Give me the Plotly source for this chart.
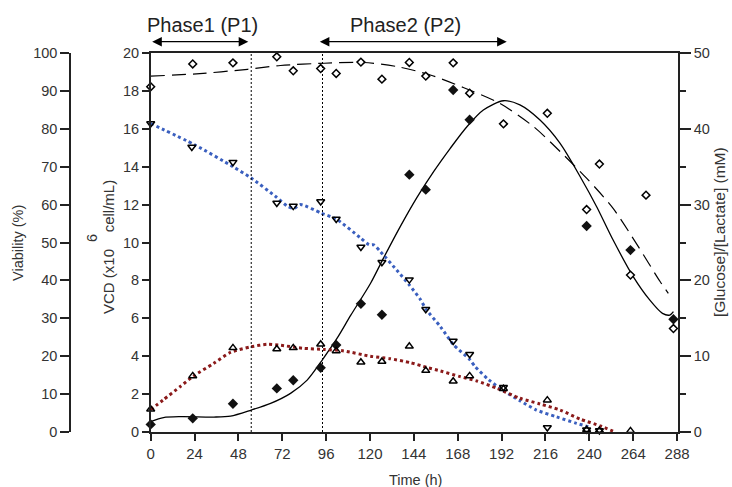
import plotly.graph_objects as go

# ---------------- data ----------------
# measured points
t_vcd = [0, 23, 45, 69, 78, 93, 101.5, 115, 126.5, 141.5, 150.5, 165.5, 174.5, 238.5, 262.5, 286]
vcd = [0.4, 0.72, 1.49, 2.3, 2.73, 3.39, 4.59, 6.77, 6.19, 13.58, 12.79, 18.05, 16.48, 10.87, 9.6, 5.95]

t_via = [0, 23, 45, 69, 78, 93, 101.5, 115, 126.5, 141.5, 150.5, 165.5, 174.5, 193, 217, 238.5, 245.5, 262.5, 271, 286]
viability = [91.1, 97.1, 97.4, 99.0, 95.3, 95.9, 94.6, 97.6, 93.1, 97.5, 93.9, 97.4, 89.4, 81.3, 84.1, 58.7, 70.7, 41.4, 62.5, 27.3]

t_glc = [0, 22.5, 45, 69, 78, 93, 101.5, 115, 126.5, 141.5, 150.5, 165.5, 174.5, 193, 217, 238.5, 245.5]
glucose = [40.7, 37.6, 35.6, 30.2, 29.8, 30.4, 28.1, 24.4, 22.4, 20.1, 16.2, 12.0, 10.25, 5.9, 0.6, 0.3, 0.2]

t_lac = [0, 23, 45, 69, 78, 93, 101.5, 115, 126.5, 141.5, 150.5, 165.5, 174.5, 193, 217, 238.5, 245.5, 262.5]
lactate = [3.0, 7.4, 11.1, 10.95, 11.1, 11.57, 10.7, 9.2, 9.3, 11.3, 8.1, 6.7, 7.4, 5.7, 4.2, 0.3, 0.2, 0.15]

# fitted curves
t_vcd_fit = [0, 7, 16.4, 34.6, 43.7, 55, 65.6, 76.5, 85.6, 94.2, 102, 109.4, 120.3, 127.5, 136.6, 145.7,
             154.8, 163.9, 173, 182, 193, 202, 213, 224, 235, 244, 253, 264, 273, 280, 284, 286]
vcd_fit = [0.55, 0.76, 0.81, 0.79, 0.84, 1.16, 1.51, 2.04, 2.74, 3.85, 4.95, 6.15, 7.85, 9.2, 10.85, 12.38,
           13.74, 14.97, 16.11, 16.99, 17.48, 17.26, 16.46, 15.23, 13.47, 11.89, 10.13, 8.2, 6.97, 6.26, 6.17, 6.35]

t_via_fit = [0, 25, 53, 71, 95, 116.5, 135, 153, 171, 191, 209.4, 224, 238.6, 253, 266.8, 278.7, 283.2]
via_fit = [93.9, 94.5, 95.7, 96.7, 97.3, 97.5, 96.4, 94.2, 90.9, 86.7, 80.6, 74.0, 66.9, 59.0, 48.9, 39.7, 36.6]

t_glc_fit = [0, 24, 45, 55, 68.7, 74.7, 78.3, 82, 93, 101.5, 114.8, 119.5, 122, 125.7, 135.5, 141.5, 147.5,
             150.6, 158.5, 165.7, 174.8, 177.6, 184.9, 193, 202, 211, 222, 233, 241]
glc_fit = [40.7, 37.9, 35.0, 33.5, 31.0, 29.8, 29.5, 30.0, 28.9, 28.1, 25.6, 24.7, 24.7, 23.8, 21.1, 19.4, 17.5,
           16.2, 13.9, 11.5, 9.5, 8.6, 6.9, 5.45, 4.13, 2.9, 2.0, 1.14, 0.6]

t_lac_fit = [0, 7, 16.2, 23.5, 34.5, 43.6, 55, 63.8, 71, 83.7, 94.6, 105.6, 120, 131, 142, 151, 158.5,
             169.4, 178.5, 189.5, 202, 213, 224, 235, 246, 254]
lac_fit = [2.95, 4.26, 6.0, 7.4, 9.06, 10.5, 11.25, 11.57, 11.44, 11.04, 10.9, 10.7, 10.0, 9.67, 9.15, 8.53, 8.05,
           7.3, 6.73, 5.76, 4.45, 3.7, 2.9, 1.7, 0.8, 0.0]

# axis ticks
x_ticks = [0, 24, 48, 72, 96, 120, 144, 168, 192, 216, 240, 264, 288]
phase_bounds = [55, 94]
phase1_span = [0, 53.4]
phase2_span = [91.7, 194.8]
phase_labels = ["Phase1 (P1)", "Phase2 (P2)"]

# ---------------- layout helpers ----------------
W, H = 732, 487
L, R, T, B = 70, 54, 53, 55
PW, PH = W - L - R, H - T - B
def px(x):
    return (x - L) / PW
def py(y):
    return (H - B - y) / PH

FONT = "Liberation Sans, Arial, sans-serif"
AX = "#222222"
TXT = "#333333"
BLUE = "#3a5fbf"
RED = "#8b1a1a"

fig = go.Figure()

# curves
fig.add_trace(go.Scatter(x=t_vcd_fit, y=vcd_fit, mode="lines", yaxis="y",
                         line=dict(color="black", width=1.3, shape="spline", smoothing=0.8), showlegend=False))
fig.add_trace(go.Scatter(x=t_vcd, y=vcd, mode="markers", yaxis="y", cliponaxis=False,
                         marker=dict(symbol="diamond", size=8, color="#111111"), showlegend=False))

fig.add_trace(go.Scatter(x=t_via_fit, y=via_fit, mode="lines", yaxis="y2",
                         line=dict(color="black", width=1.2, dash="14px,7px", shape="spline", smoothing=0.8),
                         showlegend=False))
fig.add_trace(go.Scatter(x=t_via, y=viability, mode="markers", yaxis="y2", cliponaxis=False,
                         marker=dict(symbol="diamond", size=6, color="white",
                                     line=dict(color="black", width=1.5)), showlegend=False))

fig.add_trace(go.Scatter(x=t_glc_fit, y=glc_fit, mode="lines", yaxis="y3",
                         line=dict(color=BLUE, width=3, dash="3px,3px", shape="spline", smoothing=0.6),
                         showlegend=False))
fig.add_trace(go.Scatter(x=t_lac_fit, y=lac_fit, mode="lines", yaxis="y3",
                         line=dict(color=RED, width=3, dash="3px,3px", shape="spline", smoothing=0.6),
                         showlegend=False))
fig.add_trace(go.Scatter(x=t_glc, y=glucose, mode="markers", yaxis="y3", cliponaxis=False,
                         marker=dict(symbol="triangle-down-open", size=7, color="black",
                                     line=dict(color="black", width=1.5)), showlegend=False))
fig.add_trace(go.Scatter(x=t_lac, y=lactate, mode="markers", yaxis="y3", cliponaxis=False,
                         marker=dict(symbol="triangle-up-open", size=7, color="black",
                                     line=dict(color="black", width=1.5)), showlegend=False))

# phase boundaries
for tb in phase_bounds:
    fig.add_shape(type="line", xref="x", yref="paper", x0=tb, x1=tb, y0=0, y1=1,
                  line=dict(color="black", width=1, dash="2px,2px"))

axis_common = dict(showline=True, linecolor=AX, linewidth=1.5, ticks="outside", tickcolor=AX,
                   tickwidth=1.5, showgrid=False, zeroline=False,
                   tickfont=dict(family=FONT, size=14.5, color=TXT))

fig.update_layout(
    width=W, height=H, margin=dict(l=L, r=R, t=T, b=B, pad=0),
    paper_bgcolor="white", plot_bgcolor="white",
    font=dict(family=FONT, color=TXT),
    xaxis=dict(domain=[px(150.7), 1], range=[0, 288.5], tickvals=x_ticks,
               ticktext=[str(v) for v in x_ticks], ticklen=7, mirror=True, anchor="y",
               **{**axis_common, "tickfont": dict(family=FONT, size=15, color=TXT)}),
    yaxis=dict(range=[0, 20], dtick=2, ticklen=7, anchor="x", side="left", **axis_common),
    yaxis2=dict(range=[0, 100], dtick=10, ticklen=9, overlaying="y", anchor="free", position=0,
                side="left", **axis_common),
    yaxis3=dict(range=[0, 50], tickvals=[0, 10, 20, 30, 40, 50], ticklen=11, overlaying="y",
                anchor="x", side="right",
                minor=dict(dtick=5, ticks="outside", ticklen=6, tickcolor=AX, tickwidth=1.5),
                **axis_common),
)

def label(x, y, text, size, angle=0, color=TXT):
    return dict(x=px(x), y=py(y), xref="paper", yref="paper", text=text, textangle=angle,
                xanchor="center", yanchor="middle", showarrow=False,
                font=dict(family=FONT, size=size, color=color))

ann = []
# phase arrows
for span in (phase1_span, phase2_span):
    ann.append(dict(x=span[1], y=py(41.7), xref="x", yref="paper", ax=span[0], ay=0,
                    axref="x", ayref="pixel", text="", showarrow=True, arrowhead=2,
                    arrowside="end+start", arrowsize=1.6, arrowwidth=1.2, arrowcolor="black",
                    standoff=0, startstandoff=0))
ann.append(label(202, 25, phase_labels[0], 20, color="#222"))
ann.append(label(405, 25, phase_labels[1], 20, color="#222"))
# axis titles
ann.append(label(18, 243, "Viability (%)", 14.5, -90))
ann.append(label(108, 247, "VCD (x10    cell/mL)", 15, -90))
ann.append(label(92, 238, "6", 14.5, -90))
ann.append(label(719, 232, "[Glucose]/[Lactate] (mM)", 15.5, -90))
ann.append(label(415, 480, "Time (h)", 14.5))
fig.update_layout(annotations=ann)

fig.write_html("out.html")
